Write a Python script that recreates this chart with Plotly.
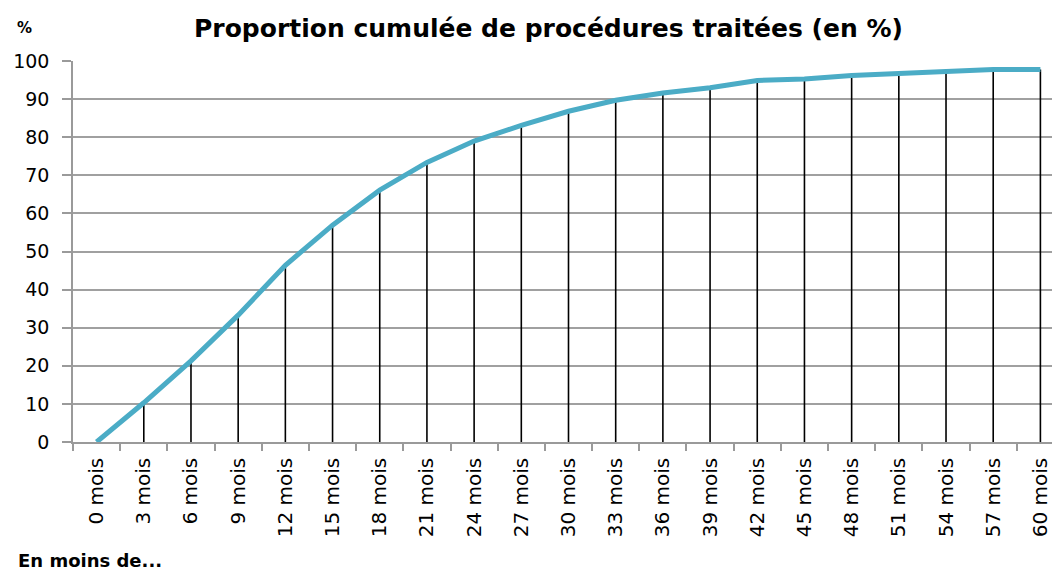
import plotly.graph_objects as go

categories = ["0 mois", "3 mois", "6 mois", "9 mois", "12 mois", "15 mois", "18 mois",
              "21 mois", "24 mois", "27 mois", "30 mois", "33 mois", "36 mois", "39 mois",
              "42 mois", "45 mois", "48 mois", "51 mois", "54 mois", "57 mois", "60 mois"]
values = [0, 10.3, 21.3, 33.3, 46.4, 56.9, 66.1, 73.4, 79.0, 83.1, 86.8, 89.7, 91.6,
          93.0, 94.9, 95.3, 96.2, 96.8, 97.4, 97.8, 97.8]
y_ticks = [0, 10, 20, 30, 40, 50, 60, 70, 80, 90, 100]

title_text = "Proportion cumulée de procédures traitées (en %)"
y_unit = "%"
x_note = "En moins de..."

fig = go.Figure()

# drop lines
fig.add_trace(go.Scatter(
    x=categories, y=values, mode="markers",
    marker=dict(size=1, color="rgba(0,0,0,0)"),
    error_y=dict(type="data", symmetric=False, array=[0] * len(values),
                 arrayminus=values, width=0, thickness=1.6, color="black"),
    hoverinfo="skip", showlegend=False,
))
fig.add_trace(go.Scatter(
    x=categories, y=values, mode="lines",
    line=dict(color="#4BACC6", width=5),
    showlegend=False,
))

font_family = "DejaVu Sans"

fig.update_layout(
    width=1060, height=572,
    margin=dict(l=65, r=4, t=53, b=138),
    paper_bgcolor="white", plot_bgcolor="white",
    title=dict(text="<b>" + title_text + "</b>", x=540.5 / 1060, xanchor="center",
               y=1 - 20 / 572, yanchor="middle",
               font=dict(family=font_family, size=25, color="black")),
    font=dict(family=font_family, color="black"),
    xaxis=dict(
        type="category", range=[-0.5, 20.5],
        tickson="boundaries", ticks="outside", ticklen=7, tickwidth=1.5,
        tickcolor="#9a9a9a", showgrid=False, showline=True, linecolor="#9a9a9a",
        linewidth=1.5, tickangle=-90, tickfont=dict(size=20, color="black"),
        ticklabelstandoff=6, zeroline=False,
    ),
    yaxis=dict(
        range=[0, 100], tickvals=y_ticks, ticks="outside", ticklen=9, tickwidth=1.5,
        tickcolor="#9a9a9a", showgrid=True, gridcolor="#a0a0a0", gridwidth=1.6,
        showline=True, linecolor="#9a9a9a", linewidth=1.5, zeroline=False,
        tickfont=dict(size=19, color="black"), ticklabelstandoff=9,
    ),
)

fig.add_annotation(text="<b>" + y_unit + "</b>", xref="paper", yref="paper",
                   x=(16 - 65) / 991, y=(434 - 20) / 381, xanchor="center", yanchor="middle",
                   showarrow=False, font=dict(family=font_family, size=15, color="black"))
fig.add_annotation(text="<b>" + x_note + "</b>", xref="paper", yref="paper",
                   x=(8 - 65) / 991, y=(434 - 552) / 381, xanchor="left", yanchor="middle",
                   showarrow=False,
                   font=dict(family=font_family, size=18, color="black"))

fig.write_html("out.html")
